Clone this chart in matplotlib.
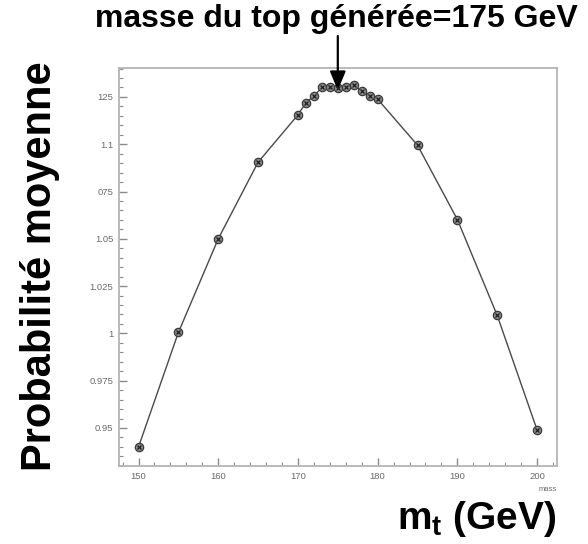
import matplotlib
matplotlib.use("Agg")
import matplotlib.pyplot as plt
from matplotlib.ticker import FixedLocator, FixedFormatter, MultipleLocator
from matplotlib.patches import ArrowStyle

plt.rcParams['font.family'] = ['Liberation Sans', 'DejaVu Sans']
plt.rcParams['mathtext.fontset'] = 'custom'
plt.rcParams['mathtext.rm'] = 'Liberation Sans:bold'
plt.rcParams['mathtext.it'] = 'Liberation Sans:bold'
plt.rcParams['mathtext.bf'] = 'Liberation Sans:bold'

# top mass hypothesis (GeV) and mean probability
mass = [150, 155, 160, 165, 170, 171, 172, 173, 174, 175, 176, 177, 178, 179, 180,
        185, 190, 195, 200]
prob = [0.940, 1.0005, 1.050, 1.0905, 1.1155, 1.122, 1.1255, 1.1300, 1.1305, 1.1298,
        1.1300, 1.1313, 1.1280, 1.1255, 1.1238, 1.0995, 1.0602, 1.0095, 0.949]

y_ticks = [0.95, 0.975, 1.0, 1.025, 1.05, 1.075, 1.1, 1.125]
y_tick_labels = ["0.95", "0.975", "1", "1.025", "1.05", "075", "1.1", "125"]
x_ticks = [150, 160, 170, 180, 190, 200]
generated_mass = 175

fig = plt.figure(figsize=(5.88, 5.44), dpi=100)
ax = fig.add_axes([119 / 588, 1 - 466 / 544, 438 / 588, 398 / 544])

frame_col = "#b4b4b4"
tick_col = "#8c8c8c"
ax.plot(mass, prob, color="#4a4a4a", lw=1.0, zorder=2)
ax.plot(mass, prob, ls="none", marker="o", ms=6.0, mfc="#8a8a8a", mec="#3a3a3a",
        mew=0.9, zorder=3)
ax.plot(mass, prob, ls="none", marker="x", ms=3.2, mec="#202020", mew=0.9, zorder=4)

ax.set_xlim(147.55, 202.5)
ax.set_ylim(0.9299, 1.1403)

ax.xaxis.set_major_locator(FixedLocator(x_ticks))
ax.xaxis.set_minor_locator(MultipleLocator(2))
ax.yaxis.set_major_locator(FixedLocator(y_ticks))
ax.yaxis.set_major_formatter(FixedFormatter(y_tick_labels))
ax.yaxis.set_minor_locator(MultipleLocator(0.005))

for s in ax.spines.values():
    s.set_color(frame_col)
    s.set_linewidth(1.3)

ax.tick_params(which="both", direction="in", colors=tick_col, labelcolor="#6a6a6a",
               labelsize=6.8, top=False, right=False)
ax.tick_params(which="major", length=6, width=1.0)
ax.tick_params(which="minor", length=3, width=0.8)
ax.tick_params(axis="x", pad=4)
ax.tick_params(axis="y", pad=4)

ax.text(1.0, -0.05, "mass", transform=ax.transAxes, ha="right", va="top",
        fontsize=5.5, color="#6a6a6a")

# arrow marking the generated top mass
ax.annotate("", xy=(generated_mass, 1.1285), xycoords="data",
            xytext=(generated_mass, 1 - 36 / 544),
            textcoords=("data", "figure fraction"),
            arrowprops=dict(arrowstyle=ArrowStyle("-|>", head_length=1.15, head_width=0.48),
                            mutation_scale=10, color="black", lw=1.6,
                            shrinkA=0, shrinkB=0),
            annotation_clip=False)

fig.text(336 / 588, 1 - 27 / 544, "masse du top générée=175 GeV", ha="center",
         va="baseline", fontsize=23, fontweight="bold")
fig.text(40 / 588, 1 - 266 / 544, "Probabilité moyenne", ha="center", va="center",
         rotation=90, fontsize=30, fontweight="bold")
fig.text(556 / 588, 1 - 519 / 544, "$m_t$ (GeV)", ha="right", va="center",
         fontsize=28, fontweight="bold")

fig.savefig("out.png", dpi=100)
